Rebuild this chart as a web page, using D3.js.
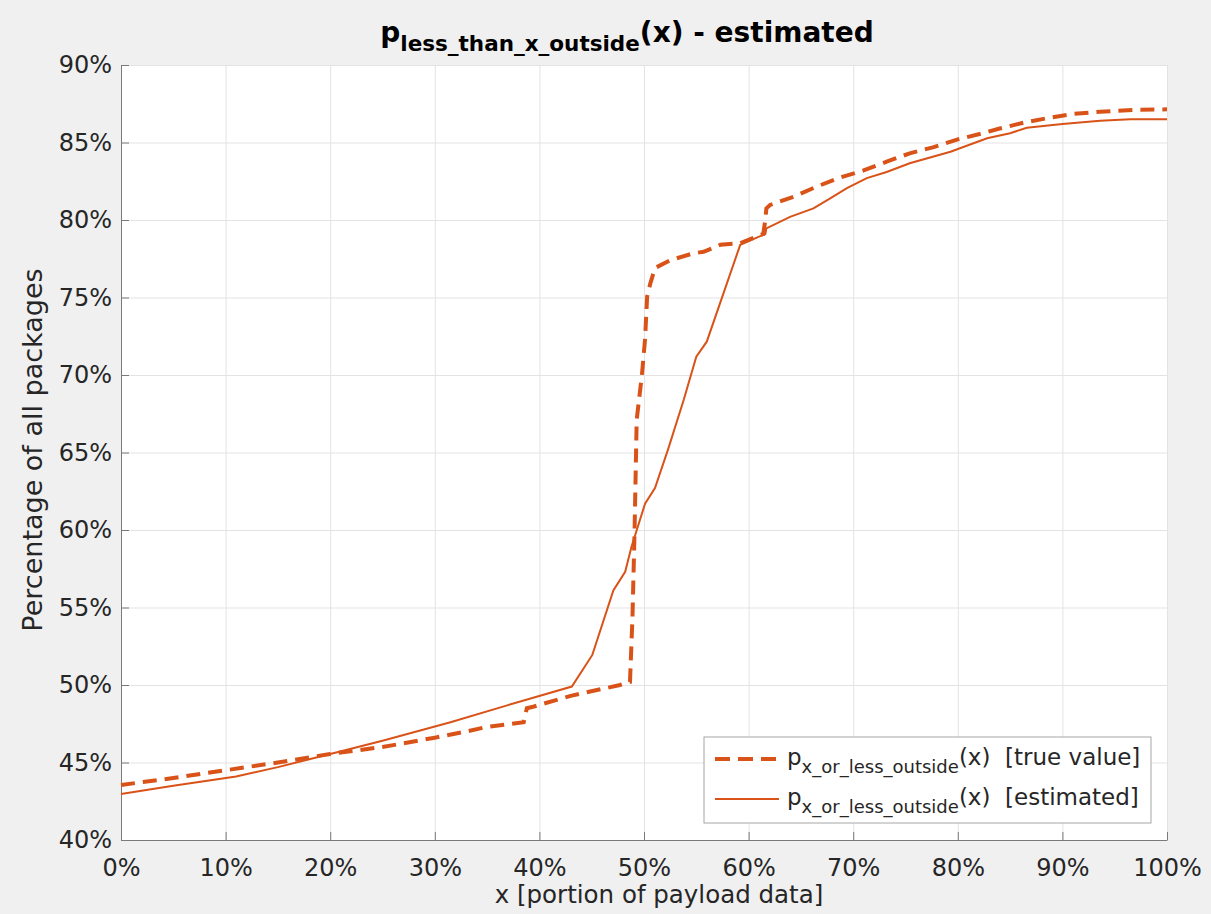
<!DOCTYPE html>
<html>
<head>
<meta charset="utf-8">
<script src="https://cdn.jsdelivr.net/npm/d3@7"></script>
<style>
  body { margin: 0; background: #f0f0f0; }
  svg { display: block; font-family: "DejaVu Sans", sans-serif; }
</style>
</head>
<body>
<div id="chart"></div>
<script>
// x positions (% of payload) and values (% of packages)
var trueX = [0, 5, 10, 15, 20, 25, 30, 33, 35, 38.5, 38.8, 39.4, 43, 47.7, 48.66, 48.9, 49.1, 49.3, 49.8, 50.1, 50.3, 50.6, 51.05, 52.5, 54.7, 55.7, 57.3, 59.2, 61.4, 61.6, 61.7, 62.05, 64.3, 66.5, 68.7, 71, 73.2, 75.4, 77.7, 80, 82.4, 84, 86.4, 88.8, 91, 93.6, 96.8, 100];
var trueY = [43.55, 44.0, 44.5, 45.0, 45.55, 46.0, 46.6, 47.0, 47.3, 47.6, 48.5, 48.6, 49.3, 50.0, 50.2, 54.4, 60.0, 67.1, 70.0, 72.3, 75.05, 75.9, 76.9, 77.4, 77.85, 77.95, 78.4, 78.5, 79.1, 80.0, 80.75, 80.97, 81.5, 82.15, 82.73, 83.2, 83.76, 84.3, 84.7, 85.2, 85.6, 85.9, 86.3, 86.6, 86.84, 86.99, 87.1, 87.14];

var estX = [0, 5, 11, 15, 20, 25, 31.5, 37, 43.1, 45.06, 47.07, 48.2, 48.8, 50.1, 51.05, 52.3, 53.8, 55.0, 56.0, 59.2, 61.6, 61.7, 63.96, 66.2, 67.8, 69.4, 71.3, 73.2, 75.4, 79.3, 82.8, 85, 86.6, 90, 93.6, 96.5, 100];
var estY = [42.97, 43.5, 44.1, 44.7, 45.55, 46.4, 47.6, 48.7, 49.9, 51.94, 56.1, 57.3, 58.9, 61.7, 62.7, 65.2, 68.4, 71.18, 72.15, 78.4, 79.1, 79.46, 80.2, 80.75, 81.4, 82.05, 82.7, 83.1, 83.66, 84.4, 85.27, 85.6, 85.95, 86.2, 86.4, 86.5, 86.5];

var xTicks = [0, 10, 20, 30, 40, 50, 60, 70, 80, 90, 100];
var yTicks = [40, 45, 50, 55, 60, 65, 70, 75, 80, 85, 90];

var color = "#D95319";
var W = 1211, H = 914;
var margin = { top: 65, right: 44, bottom: 74, left: 121 },
    width = W - margin.left - margin.right,
    height = H - margin.top - margin.bottom;

var svg = d3.select("#chart")
    .append("svg")
    .attr("width", W)
    .attr("height", H);

svg.append("rect")
    .attr("width", W).attr("height", H)
    .attr("fill", "#f0f0f0");

var g = svg.append("g")
    .attr("transform", "translate(" + margin.left + "," + margin.top + ")");

g.append("rect")
    .attr("width", width).attr("height", height)
    .attr("fill", "#ffffff");

var x = d3.scaleLinear().domain([0, 100]).range([0, width]);
var y = d3.scaleLinear().domain([40, 90]).range([height, 0]);

// grid
g.append("g")
    .attr("class", "grid")
    .call(d3.axisBottom(x).tickValues(xTicks).tickSize(height).tickFormat(""))
    .call(function (s) { s.select(".domain").remove(); })
    .selectAll("line").attr("stroke", "#e3e3e3");
g.append("g")
    .attr("class", "grid")
    .call(d3.axisLeft(y).tickValues(yTicks).tickSize(-width).tickFormat(""))
    .call(function (s) { s.select(".domain").remove(); })
    .selectAll("line").attr("stroke", "#e3e3e3");

// axes, ticks pointing inward
var xAxis = g.append("g")
    .attr("transform", "translate(0," + height + ")")
    .call(d3.axisBottom(x).tickValues(xTicks).tickSizeInner(-8).tickSizeOuter(0)
        .tickPadding(19).tickFormat(function (d) { return d + "%"; }));
var yAxis = g.append("g")
    .call(d3.axisLeft(y).tickValues(yTicks).tickSizeInner(-8).tickSizeOuter(0)
        .tickPadding(9).tickFormat(function (d) { return d + "%"; }));

[xAxis, yAxis].forEach(function (a) {
    a.select(".domain").attr("stroke", "#7a7a7a");
    a.selectAll(".tick line").attr("stroke", "#7a7a7a");
    a.selectAll("text")
        .attr("fill", "#262626")
        .style("font-size", "24px")
        .style("font-family", "DejaVu Sans");
});

// lines
var line = d3.line()
    .x(function (d) { return x(d[0]); })
    .y(function (d) { return y(d[1]); });

var trueData = trueX.map(function (v, i) { return [v, trueY[i]]; });
var estData = estX.map(function (v, i) { return [v, estY[i]]; });

g.append("path")
    .datum(estData)
    .attr("d", line)
    .attr("fill", "none")
    .attr("stroke", color)
    .attr("stroke-width", 2);

g.append("path")
    .datum(trueData)
    .attr("d", line)
    .attr("fill", "none")
    .attr("stroke", color)
    .attr("stroke-width", 4)
    .attr("stroke-dasharray", "14,8");

// title
var title = svg.append("text")
    .attr("x", 627)
    .attr("y", 42)
    .attr("text-anchor", "middle")
    .attr("fill", "#000")
    .style("font-weight", "bold")
    .style("font-size", "28px");
title.append("tspan").text("p");
title.append("tspan").attr("dy", 9).style("font-size", "21.5px").text("less_than_x_outside");
title.append("tspan").attr("dy", -9).text("(x) - estimated");

// axis labels
svg.append("text")
    .attr("x", 659)
    .attr("y", 903)
    .attr("text-anchor", "middle")
    .attr("fill", "#262626")
    .style("font-size", "24.5px")
    .text("x [portion of payload data]");

svg.append("text")
    .attr("transform", "translate(42,450) rotate(-90)")
    .attr("text-anchor", "middle")
    .attr("fill", "#262626")
    .style("font-size", "27px")
    .text("Percentage of all packages");

// legend
var legend = svg.append("g").attr("transform", "translate(704,737)");
legend.append("rect")
    .attr("width", 447).attr("height", 86)
    .attr("fill", "#fff")
    .attr("stroke", "#a6a6a6")
    .attr("stroke-width", 1);

var legendItems = [
    { dash: "15,8", width: 4, label: "  [true value]" },
    { dash: null, width: 2, label: "  [estimated]" }
];

legendItems.forEach(function (it, i) {
    var cy = 22 + i * 40;
    legend.append("line")
        .attr("x1", 11).attr("x2", 75)
        .attr("y1", cy).attr("y2", cy)
        .attr("stroke", color)
        .attr("stroke-width", it.width)
        .attr("stroke-dasharray", it.dash);
    var t = legend.append("text")
        .attr("x", 83).attr("y", cy + 6)
        .attr("fill", "#262626")
        .style("font-size", "23px")
        .attr("xml:space", "preserve");
    t.append("tspan").text("p");
    t.append("tspan").attr("dy", 8).style("font-size", "18px").text("x_or_less_outside");
    t.append("tspan").attr("dy", -8).text("(x)" + it.label);
});
</script>
</body>
</html>
